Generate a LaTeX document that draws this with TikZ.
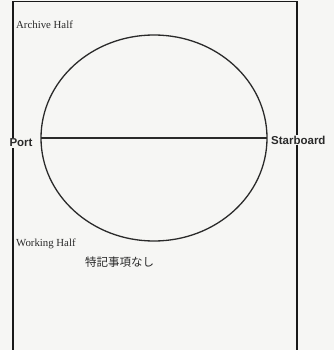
\documentclass[tikz,border=0pt]{standalone}
\usepackage{fontspec}
\setmainfont{Liberation Serif}
\newfontfamily\labsans{Liberation Sans}
\newfontfamily\cjk{Noto Sans CJK JP}
\definecolor{paper}{HTML}{F6F6F4}
\definecolor{ink}{HTML}{2A2A2A}
\tikzset{
  frameline/.style={draw=black!90, line width=1.8pt},
  hullline/.style={draw=ink, line width=1.3pt},
  sidelabel/.style={font=\labsans\bfseries\fontsize{11.5}{13}\selectfont, text=ink, fill=paper, inner sep=1pt},
  halflabel/.style={font=\fontsize{10.8}{12}\selectfont, text=ink, anchor=west, inner sep=0pt},
  notelabel/.style={font=\cjk\fontsize{11.5}{13}\selectfont, text=ink, anchor=west, inner sep=0pt}
}
\begin{document}
\begin{tikzpicture}[x=1pt,y=-1pt]
\useasboundingbox (0,0) rectangle (334,350);
\fill[paper] (0,0) rectangle (334,350);
\draw[frameline] (13,1.5) rectangle (297,352);
\draw[hullline] (154,138) ellipse [x radius=113, y radius=103];
\coordinate (pl) at (41,138);
\coordinate (pr) at (267,138);
\draw[hullline] (pl) -- (pr);
\node[sidelabel] (port) at (21,143) {Port};
\node[sidelabel, anchor=west] (stbd) at (270,140) {Starboard};
\node[halflabel] (arch) at (16,25) {Archive Half};
\node[halflabel] (work) at (16,244) {Working Half};
\node[notelabel] (note) at (85,262) {特記事項なし};
\end{tikzpicture}
\end{document}
